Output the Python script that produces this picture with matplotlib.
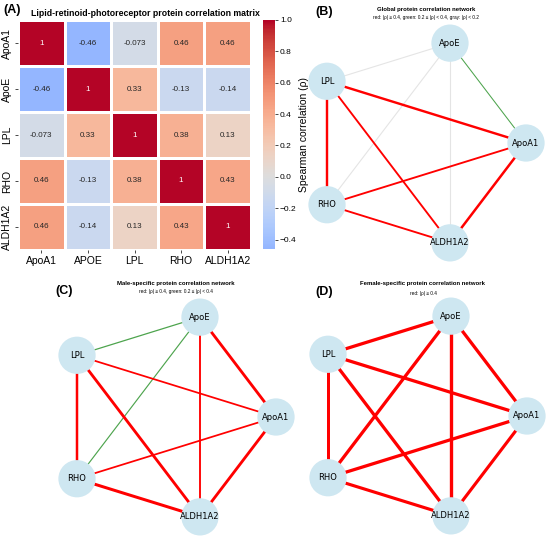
import numpy as np
import pandas as pd
import matplotlib
matplotlib.use("Agg")
import matplotlib.pyplot as plt
import seaborn as sns

# correlation matrix (panel A)
row_labels = ["ApoA1", "ApoE", "LPL", "RHO", "ALDH1A2"]
col_labels = ["ApoA1", "APOE", "LPL", "RHO", "ALDH1A2"]
corr_values = [
    [1.0, -0.46, -0.073, 0.46, 0.46],
    [-0.46, 1.0, 0.33, -0.13, -0.14],
    [-0.073, 0.33, 1.0, 0.38, 0.13],
    [0.46, -0.13, 0.38, 1.0, 0.43],
    [0.46, -0.14, 0.13, 0.43, 1.0],
]

# network nodes, in circular layout order
nodes = ["ApoA1", "ApoE", "LPL", "RHO", "ALDH1A2"]

global_edges = [
    ("LPL", "ApoE", 0.10), ("RHO", "ApoE", 0.05), ("ApoE", "ALDH1A2", 0.08),
    ("ApoE", "ApoA1", 0.25), ("LPL", "ApoA1", 0.58), ("LPL", "RHO", 0.58),
    ("LPL", "ALDH1A2", 0.45), ("RHO", "ApoA1", 0.45), ("RHO", "ALDH1A2", 0.45),
    ("ApoA1", "ALDH1A2", 0.60),
]
male_edges = [
    ("LPL", "ApoE", 0.30), ("RHO", "ApoE", 0.28), ("ApoE", "ALDH1A2", 0.45),
    ("ApoE", "ApoA1", 0.68), ("LPL", "ApoA1", 0.42), ("LPL", "RHO", 0.60),
    ("LPL", "ALDH1A2", 0.68), ("RHO", "ApoA1", 0.42), ("RHO", "ALDH1A2", 0.72),
    ("ApoA1", "ALDH1A2", 0.68),
]
female_edges = [
    ("LPL", "ApoE", 0.78), ("RHO", "ApoE", 0.78), ("ApoE", "ALDH1A2", 0.80),
    ("ApoE", "ApoA1", 0.78), ("LPL", "ApoA1", 0.78), ("LPL", "RHO", 0.72),
    ("LPL", "ALDH1A2", 0.78), ("RHO", "ApoA1", 0.78), ("RHO", "ALDH1A2", 0.75),
    ("ApoA1", "ALDH1A2", 0.75),
]

W, H = 550, 538
plt.rcParams["font.family"] = ["Liberation Sans", "DejaVu Sans"]
fig = plt.figure(figsize=(W / 100, H / 100), dpi=100)


def px_box(x0, y0, x1, y1):
    """figure fraction box from pixel corners (top-left origin)"""
    return [x0 / W, 1 - y1 / H, (x1 - x0) / W, (y1 - y0) / H]


# ---- (A) heatmap ----
ax_hm = fig.add_axes(px_box(18, 20, 251, 250))
ax_cb = fig.add_axes(px_box(263, 20, 275, 249))
df = pd.DataFrame(corr_values, index=row_labels, columns=col_labels)
sns.heatmap(df, ax=ax_hm, cbar_ax=ax_cb, cmap="coolwarm", center=0,
            annot=True, fmt=".2g", annot_kws={"size": 5.8},
            linewidths=1, linecolor="white",
            cbar_kws={"label": "Spearman correlation (\u03c1)"})
ax_hm.tick_params(axis="both", labelsize=7.5, length=2, width=0.5, pad=2)
ax_hm.set_yticklabels(row_labels, rotation=90, va="center")
ax_hm.set_xticklabels(col_labels, rotation=0)
ax_cb.tick_params(labelsize=6, length=2, width=0.5, pad=1.5)
ax_cb.yaxis.label.set_size(7.5)
ax_cb.yaxis.labelpad = 2
fig.text(145 / W, 1 - 13 / H, "Lipid-retinoid-photoreceptor protein correlation matrix",
         ha="center", va="center", fontsize=6.3, fontweight="bold")
fig.text(3 / W, 1 - 10 / H, "(A)", ha="left", va="center", fontsize=9, fontweight="bold")


# ---- network panels ----
angles = 2 * np.pi * np.arange(len(nodes)) / len(nodes)
pos = {n: (np.cos(a), np.sin(a)) for n, a in zip(nodes, angles)}


def draw_network(cx, cy, edges, rx=110, ry=105, half=143):
    ax = fig.add_axes(px_box(cx - half, cy - half, cx + half, cy + half))
    ax.set_xlim(-half / rx, half / rx)
    ax.set_ylim(-half / ry, half / ry)
    ax.axis("off")
    ax.patch.set_alpha(0)
    for a, b, r in edges:
        if abs(r) >= 0.4:
            color, lw, alpha = "red", 3 * abs(r), 1.0
        elif abs(r) >= 0.2:
            color, lw, alpha = "#3a9a3a", 3 * abs(r), 0.9
        else:
            color, lw, alpha = "lightgray", 0.8, 0.6
        ax.plot([pos[a][0], pos[b][0]], [pos[a][1], pos[b][1]],
                color=color, lw=lw, alpha=alpha, zorder=1, solid_capstyle="butt")
    xs = [pos[n][0] for n in nodes]
    ys = [pos[n][1] for n in nodes]
    ax.scatter(xs, ys, s=720, color="#cee7f1", edgecolors="none", zorder=2)
    for n in nodes:
        ax.text(pos[n][0], pos[n][1], n, ha="center", va="center",
                fontsize=6, family="DejaVu Sans", zorder=3)
    return ax


draw_network(416, 143, global_edges)
draw_network(166, 417, male_edges)
draw_network(417, 416, female_edges)

# panel titles
fig.text(426 / W, 1 - 10 / H, "Global protein correlation network",
         ha="center", va="center", fontsize=4.3, fontweight="bold")
fig.text(426 / W, 1 - 18 / H,
         "red: |\u03c1| \u2265 0.4, green: 0.2 \u2264 |\u03c1| < 0.4, gray: |\u03c1| < 0.2",
         ha="center", va="center", fontsize=3.4)
fig.text(315 / W, 1 - 12 / H, "(B)", ha="left", va="center", fontsize=9, fontweight="bold")

fig.text(176 / W, 1 - 283 / H, "Male-specific protein correlation network",
         ha="center", va="center", fontsize=4.3, fontweight="bold")
fig.text(176 / W, 1 - 292 / H, "red: |\u03c1| \u2265 0.4, green: 0.2 \u2264 |\u03c1| < 0.4",
         ha="center", va="center", fontsize=3.4)
fig.text(55 / W, 1 - 291 / H, "(C)", ha="left", va="center", fontsize=9, fontweight="bold")

fig.text(423 / W, 1 - 284 / H, "Female-specific protein correlation network",
         ha="center", va="center", fontsize=4.3, fontweight="bold")
fig.text(423 / W, 1 - 293 / H, "red: |\u03c1| \u2265 0.4",
         ha="center", va="center", fontsize=3.4)
fig.text(315 / W, 1 - 292 / H, "(D)", ha="left", va="center", fontsize=9, fontweight="bold")

fig.savefig("out.png", dpi=100)
